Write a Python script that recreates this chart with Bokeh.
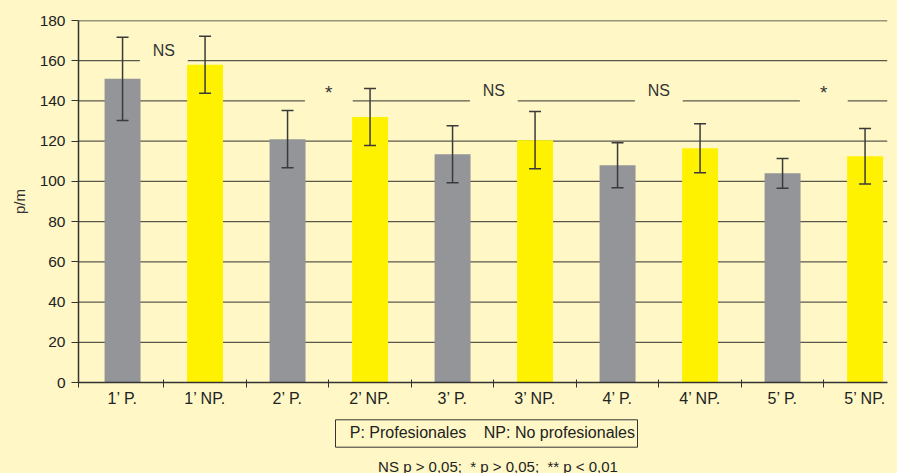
from bokeh.plotting import figure
from bokeh.layouts import column
from bokeh.models import Range1d, FixedTicker, ColumnDataSource, Whisker, TeeHead
from bokeh.core.properties import value
from bokeh.embed import file_html
from bokeh.resources import INLINE

# Pulse rate (p/m) per minute of recovery, professionals vs non-professionals
categories = ["1\u2019 P.", "1\u2019 NP.", "2\u2019 P.", "2\u2019 NP.", "3\u2019 P.",
              "3\u2019 NP.", "4\u2019 P.", "4\u2019 NP.", "5\u2019 P.", "5\u2019 NP."]
groups = ["P", "NP", "P", "NP", "P", "NP", "P", "NP", "P", "NP"]
means = [151, 158, 121, 132, 113.5, 120.5, 108, 116.5, 104, 112.5]
sd = [20.7, 14.2, 14.2, 14.2, 14.2, 14.2, 11.2, 12.2, 7.4, 13.8]

# significance between P and NP at each minute
sig_text = ["NS", "*", "NS", "NS", "*"]
sig_level = [160, 140, 140, 140, 140]

y_ticks = [0, 20, 40, 60, 80, 100, 120, 140, 160, 180]

legend_items = ["P: Profesionales", "NP: No profesionales"]
footnote = "NS p > 0,05;\u00a0 * p > 0,05;\u00a0 ** p < 0,01"

BG = "#FFF8C6"
INK = "#333333"
FONT = "Liberation Sans"
colors = {"P": "#939598", "NP": "#FFF200"}
mark_size = {"NS": "16px", "*": "19px"}
mark_lift = {"NS": 5.3, "*": 4.0}   # in p/m units above the grid line

x = list(range(len(categories)))
src = ColumnDataSource(dict(
    x=x,
    mean=means,
    upper=[m + s for m, s in zip(means, sd)],
    lower=[m - s for m, s in zip(means, sd)],
    color=[colors[g] for g in groups],
))

# the page itself carries the cream background; the canvases stay transparent
x_start, x_end = -0.534, 9.272
p = figure(width=897, height=418, output_backend="svg", toolbar_location=None,
           x_range=Range1d(x_start, x_end), y_range=Range1d(0, 180),
           min_border_left=78, min_border_right=10, min_border_top=20, min_border_bottom=36,
           background_fill_color=None, border_fill_color=None, outline_line_color=None)
p.xgrid.visible = False
p.ygrid.visible = False

# horizontal grid lines, broken where a significance mark sits on them
pair_mid = [2 * k + 0.5 for k in range(len(sig_text))]
gap_half = 0.29
gx0, gx1, gy = [], [], []
for v in y_ticks[1:-1]:
    gaps = sorted((m - gap_half, m + gap_half) for m, lvl in zip(pair_mid, sig_level) if lvl == v)
    cur = x_start
    for a, b in gaps:
        gx0.append(cur); gx1.append(a); gy.append(v)
        cur = b
    gx0.append(cur); gx1.append(x_end); gy.append(v)
p.segment(x0=gx0, y0=gy, x1=gx1, y1=gy, line_color="#5a584c", line_width=1.2, level="underlay")
p.segment(x0=[x_start], y0=[y_ticks[-1]], x1=[x_end], y1=[y_ticks[-1]],
          line_color=INK, line_width=1.5, level="underlay")

p.vbar(x="x", top="mean", width=0.436, source=src, fill_color="color", line_color=None)

head = dict(size=12, line_color="#3a3a3a", line_width=1.5)
p.add_layout(Whisker(base="x", upper="upper", lower="lower", source=src,
                     line_color="#3a3a3a", line_width=1.5, level="annotation",
                     upper_head=TeeHead(**head), lower_head=TeeHead(**head)))

sig_src = ColumnDataSource(dict(
    x=pair_mid,
    y=[lvl + mark_lift[t] for lvl, t in zip(sig_level, sig_text)],
    text=sig_text,
    size=[mark_size[t] for t in sig_text],
))
p.text(x="x", y="y", text="text", source=sig_src, text_align="center", text_baseline="middle",
       text_font=value(FONT), text_font_size="size", text_color=INK)

# axes
xa = p.xaxis[0]
xa.ticker = FixedTicker(ticks=x, minor_ticks=[x_start] + [i + 0.5 for i in x[:-1]])
xa.major_label_overrides = {i: c for i, c in zip(x, categories)}
xa.major_tick_line_color = None
xa.major_tick_in = 0
xa.major_tick_out = 0
xa.minor_tick_line_color = INK
xa.minor_tick_in = 3
xa.minor_tick_out = 5
xa.major_label_standoff = 2
xa.major_label_text_font_size = "16px"
xa.axis_line_color = INK
xa.axis_line_width = 1.5

ya = p.yaxis[0]
ya.ticker = FixedTicker(ticks=y_ticks)
ya.minor_tick_line_color = None
ya.major_tick_in = 0
ya.major_tick_out = 7
ya.major_tick_line_color = INK
ya.major_label_standoff = 6
ya.major_label_text_font_size = "15.5px"
ya.axis_line_color = INK
ya.axis_line_width = 1.5
ya.axis_label = "p/m"
ya.axis_label_text_font_size = "15px"
ya.axis_label_text_font_style = "normal"
ya.axis_label_text_color = INK
ya.axis_label_text_font = FONT
ya.axis_label_standoff = 9

for ax in (xa, ya):
    ax.major_label_text_font = FONT
    ax.major_label_text_color = "#222222"

# key box and footnote underneath the chart; this strip shares the chart's
# left/right borders, so its x coordinates are page pixels
q = figure(width=897, height=55, output_backend="svg", toolbar_location=None,
           x_range=Range1d(78, 887), y_range=Range1d(0, 55),
           x_axis_type=None, y_axis_type=None,
           min_border_left=78, min_border_right=10, min_border_top=0, min_border_bottom=0,
           background_fill_color=None, border_fill_color=None, outline_line_color=None)
q.xgrid.visible = False
q.ygrid.visible = False
q.quad(left=[335], right=[637], bottom=[26.3], top=[53.7], fill_color=None,
       line_color=INK, line_width=1)
q.text(x=[349.3, 483.3], y=[41, 41], text=legend_items, text_align="left",
       text_baseline="alphabetic", text_font=value(FONT), text_font_size="16px",
       text_color="#222222")
q.text(x=[497.5], y=[7.5], text=[footnote], text_align="center", text_baseline="alphabetic",
       text_font=value(FONT), text_font_size="15px", text_color="#222222")

layout = column(p, q, spacing=0)
html = file_html(layout, INLINE)
page_style = f"<style>html, body {{ margin: 0; background: {BG} !important; }}</style>"
html = html.replace("</head>", page_style + "\n</head>", 1)
open("out.html", "w").write(html)
